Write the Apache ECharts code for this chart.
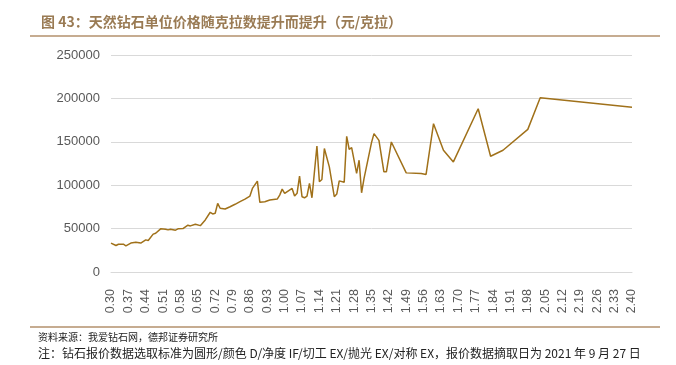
<!DOCTYPE html>
<html>
<head>
<meta charset="utf-8">
<script src="https://cdn.jsdelivr.net/npm/echarts@6/dist/echarts.min.js"></script>
<style>
  html, body { margin: 0; padding: 0; background: #fff; }
  #chart { width: 676px; height: 365px; }
</style>
</head>
<body>
<div id="chart"></div>
<script>
// carat weights that have a quote, and the price per carat (元/克拉)
var carats = [0.30, 0.32, 0.33, 0.35, 0.36, 0.38, 0.40, 0.42, 0.44, 0.45,
    0.47, 0.48, 0.50, 0.52, 0.53, 0.54, 0.56, 0.57, 0.59, 0.61,
    0.62, 0.64, 0.66, 0.68, 0.70, 0.71, 0.72, 0.73, 0.74, 0.76,
    0.78, 0.80, 0.82, 0.84, 0.86, 0.87, 0.89, 0.90, 0.92, 0.94,
    0.97, 0.98, 0.99, 1.00, 1.03, 1.04, 1.05, 1.06, 1.07, 1.08,
    1.09, 1.10, 1.11, 1.13, 1.14, 1.15, 1.16, 1.18, 1.20, 1.21,
    1.22, 1.24, 1.25, 1.26, 1.27, 1.29, 1.30, 1.31, 1.32, 1.35,
    1.36, 1.38, 1.40, 1.41, 1.43, 1.49, 1.55, 1.57, 1.60, 1.64,
    1.68, 1.78, 1.83, 1.88, 1.98, 2.03, 2.40];
var prices = [33300, 30500, 32000, 32000, 30200, 33300, 34400, 33300, 37000, 36200,
    43600, 44700, 49700, 49300, 48500, 49300, 48200, 49700, 50000, 53900,
    53100, 55000, 53400, 60000, 68800, 66900, 67700, 79100, 73400, 72600,
    75200, 78000, 81000, 84000, 87500, 96300, 104700, 80300, 81000, 82900,
    84000, 88600, 95500, 90600, 96300, 87500, 90600, 110400, 86700, 85500,
    87500, 102000, 85500, 145200, 103900, 106600, 142200, 121100, 86700, 89800,
    105000, 103500, 156300, 141400, 143300, 113500, 128800, 91300, 107800, 149100,
    159400, 151700, 115400, 115400, 149800, 114200, 113500, 112400, 170900, 140300,
    126800, 188100, 133400, 140300, 164300, 200700, 189900];

// category axis: 0.30 .. 2.40 in steps of 0.01
var caratAxis = [];
for (var i = 0; i <= 210; i++) {
    caratAxis.push((0.30 + i * 0.01).toFixed(2));
}

var lineData = caratAxis.map(function () { return null; });
carats.forEach(function (c, k) {
    lineData[Math.round((c - 0.30) * 100)] = prices[k];
});

var brown = '#9a7b54';

var option = {
    animation: false,
    title: {
        text: '图 43：天然钻石单位价格随克拉数提升而提升（元/克拉）',
        left: 36,
        top: 10,
        textStyle: {
            color: brown,
            fontSize: 14,
            fontWeight: 'bold',
            fontFamily: 'Noto Sans CJK SC'
        }
    },
    graphic: [
        {
            type: 'line',
            shape: {x1: 30, y1: 36, x2: 660, y2: 36},
            style: {stroke: '#b3916d', lineWidth: 1.5}
        },
        {
            type: 'line',
            shape: {x1: 30, y1: 327, x2: 660, y2: 327},
            style: {stroke: '#b3916d', lineWidth: 1.5}
        },
        {
            type: 'text',
            left: 38,
            top: 332,
            style: {
                text: '资料来源：我爱钻石网，德邦证券研究所',
                fill: '#222',
                fontSize: 10,
                fontFamily: 'Noto Sans CJK SC'
            }
        },
        {
            type: 'text',
            left: 38,
            top: 347,
            style: {
                text: '注：钻石报价数据选取标准为圆形/颜色 D/净度 IF/切工 EX/抛光 EX/对称 EX，报价数据摘取日为 2021 年 9 月 27 日',
                fill: '#222',
                fontSize: 12,
                fontFamily: 'Noto Sans CJK SC'
            }
        }
    ],
    grid: {
        left: 111,
        right: 44,
        top: 55,
        bottom: 93
    },
    xAxis: {
        type: 'category',
        data: caratAxis,
        boundaryGap: false,
        axisLine: {show: true, lineStyle: {color: '#d9d9d9'}},
        axisTick: {show: false},
        axisLabel: {
            interval: 6,
            rotate: 90,
            margin: 17,
            color: '#595959',
            fontSize: 12.5,
            fontFamily: 'Liberation Sans'
        }
    },
    yAxis: {
        type: 'value',
        min: 0,
        max: 250000,
        interval: 50000,
        axisLine: {show: false},
        axisTick: {show: false},
        axisLabel: {
            margin: 11,
            color: '#595959',
            fontSize: 13,
            fontFamily: 'Liberation Sans',
            formatter: function (v) { return String(v); }
        },
        splitLine: {
            lineStyle: {color: '#d9d9d9', width: 1}
        }
    },
    series: [
        {
            name: '单位价格',
            type: 'line',
            data: lineData,
            connectNulls: true,
            showSymbol: false,
            lineStyle: {color: '#a0711a', width: 1.5}
        }
    ]
};

var chart = echarts.init(document.getElementById('chart'));
chart.setOption(option);
</script>
</body>
</html>
